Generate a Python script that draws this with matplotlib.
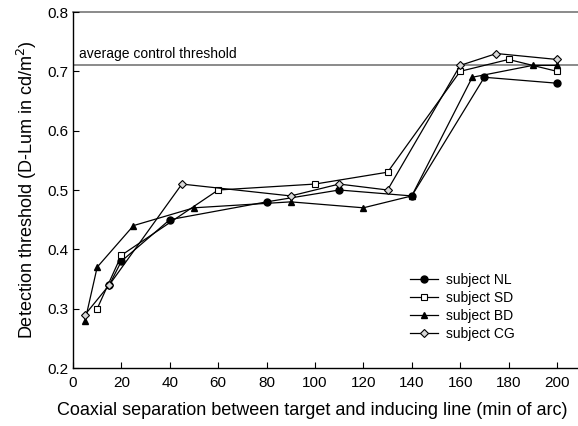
import numpy as np
import matplotlib
matplotlib.use("Agg")
import matplotlib.pyplot as plt

plt.rcParams['font.family'] = ['Liberation Sans', 'DejaVu Sans']

# subject data (separation in min of arc, threshold)
nl_x = [15, 20, 40, 80, 110, 140, 170, 200]
nl_y = [0.34, 0.38, 0.45, 0.48, 0.50, 0.49, 0.69, 0.68]
sd_x = [10, 20, 60, 100, 130, 160, 180, 200]
sd_y = [0.30, 0.39, 0.50, 0.51, 0.53, 0.70, 0.72, 0.70]
bd_x = [5, 10, 25, 50, 90, 120, 140, 165, 190, 200]
bd_y = [0.28, 0.37, 0.44, 0.47, 0.48, 0.47, 0.49, 0.69, 0.71, 0.71]
cg_x = [5, 15, 45, 90, 110, 130, 160, 175, 200]
cg_y = [0.29, 0.34, 0.51, 0.49, 0.51, 0.50, 0.71, 0.73, 0.72]
control = 0.71

fig = plt.figure(figsize=(5.78, 4.26), dpi=100)
ax = fig.add_axes([73/578, 1-368/426, 1-73/578, (368-12)/426])

ax.axhline(control, color='#777777', lw=1.2, zorder=1)
ax.axhline(0.8, color='#777777', lw=1.2, zorder=1, clip_on=False)
ax.text(2.5, control + 0.007, 'average control threshold', fontsize=10, va='bottom')

ax.plot(nl_x, nl_y, '-o', color='black', lw=0.9, ms=5, mfc='black', label='subject NL')
ax.plot(sd_x, sd_y, '-s', color='black', lw=0.9, ms=5, mfc='white', mew=0.8, label='subject SD')
ax.plot(bd_x, bd_y, '-^', color='black', lw=0.9, ms=5, mfc='black', label='subject BD')
ax.plot(cg_x, cg_y, '-D', color='black', lw=0.9, ms=4.5, mfc='#d8d8d8', mew=0.8, label='subject CG')

ax.set_xlim(0, 208.7)
ax.set_ylim(0.2, 0.8)
ax.set_xticks(np.arange(0, 201, 20))
ax.set_yticks(np.arange(0.2, 0.81, 0.1))
ax.set_yticklabels(['0.2', '0.3', '0.4', '0.5', '0.6', '0.7', '0.8'])
ax.tick_params(direction='in', length=4, width=0.8, labelsize=11)
ax.tick_params(axis='x', pad=6)
for s in ['top', 'right']:
    ax.spines[s].set_visible(False)
for s in ['left', 'bottom']:
    ax.spines[s].set_linewidth(1.0)

ax.set_xlabel('Coaxial separation between target and inducing line (min of arc)', fontsize=13)
ax.xaxis.set_label_coords(0.474, -0.095)
ax.set_ylabel('Detection threshold (D-Lum in cd/m$^2$)', fontsize=13, labelpad=6)

ax.legend(loc='lower right', bbox_to_anchor=(0.9, 0.04), frameon=False, fontsize=10,
          handlelength=2.0, labelspacing=0.3, handletextpad=0.6)

fig.savefig('out.png', dpi=100)
